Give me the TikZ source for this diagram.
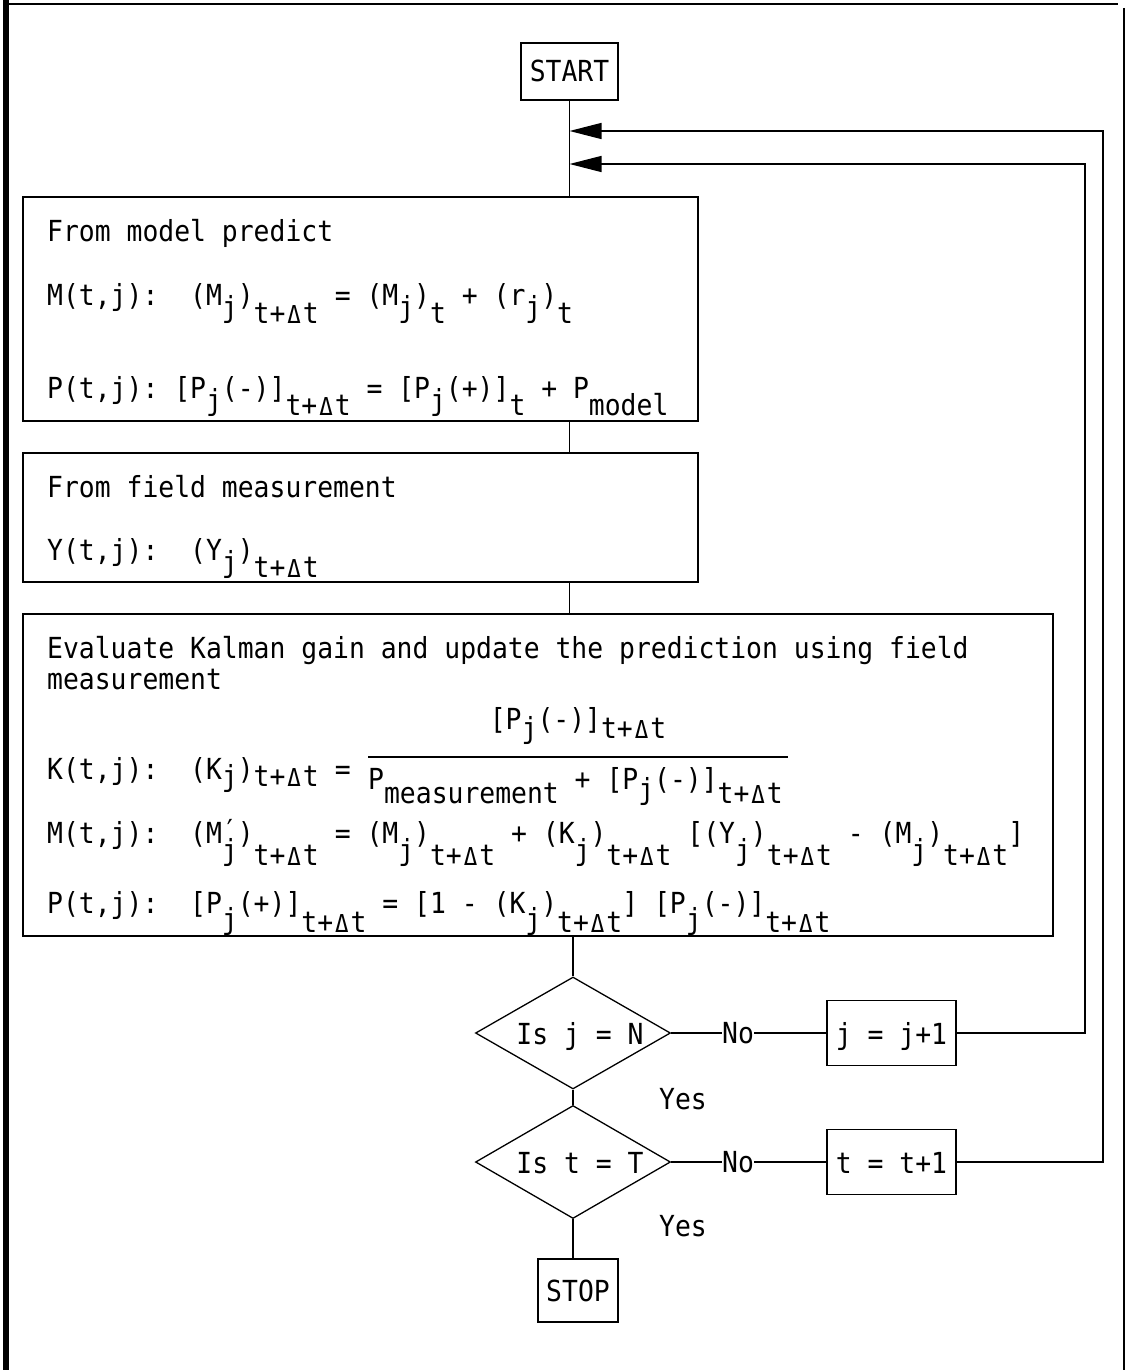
\documentclass[tikz,border=0pt]{standalone}
\usepackage{graphicx}
\usepackage{fontspec}
\setmainfont[FakeStretch=0.91]{DejaVu Sans Mono}
\usetikzlibrary{shapes.geometric,arrows.meta}
\frenchspacing
\newcommand\lo[2]{\raisebox{-#1pt}{#2}}
\newcommand\dlt{\makebox[0.602em]{\scalebox{0.85}{Δ}}}
\newcommand\SJ[1]{\raisebox{-#1pt}{j}}
\newcommand\ST[1]{\raisebox{-#1pt}{t+\dlt t}}
\tikzset{
  every node/.style={font=\fontsize{29pt}{33pt}\selectfont},
  box/.style={draw, rectangle, line width=1.8pt, inner sep=0pt},
  dia/.style={draw, diamond, line width=1.3pt, inner sep=0pt},
  conn/.style={line width=1.4pt},
  arr/.style={conn, -{Triangle[length=32pt,width=16pt]}},
  txt/.style={anchor=base west, inner sep=0pt},
  ctxt/.style={anchor=base, inner sep=0pt},
  lbl/.style={inner sep=0pt},
}
\begin{document}
\begin{tikzpicture}[x=1pt,y=-1pt]
\useasboundingbox (0,0) rectangle (1127,1370);
% frame
\draw[line width=6pt] (6,0) -- (6,1370);
\draw[line width=2.5pt] (3,4) -- (1118,4);
\draw[line width=2.5pt] (1124,8) -- (1124,1370);

% boxes
\node[box, minimum width=97pt, minimum height=57pt] (start) at (569.5,71.5) {};
\node[ctxt] (starttxt) at (569.5,82) {START};

\node[box, minimum width=675pt, minimum height=224pt] (model) at (360.5,309) {};
\node[box, minimum width=675pt, minimum height=129pt] (field) at (360.5,517.5) {};
\node[box, minimum width=1030pt, minimum height=322pt] (kalman) at (538,775) {};

\node[dia, minimum width=195pt, minimum height=112pt] (d1) at (573,1033) {};
\node[dia, minimum width=195pt, minimum height=113pt] (d2) at (573,1162) {};
\node[ctxt] (d1txt) at (580,1044) {Is j = N};
\node[ctxt] (d2txt) at (580,1173) {Is t = T};

\node[box, minimum width=129pt, minimum height=65pt] (jbox) at (891.5,1033) {};
\node[box, minimum width=129pt, minimum height=65pt] (tbox) at (891.5,1162) {};
\node[ctxt] (jtxt) at (891.5,1044) {j = j+1};
\node[ctxt] (ttxt) at (891.5,1173) {t = t+1};

\node[box, minimum width=80pt, minimum height=63pt] (stop) at (578,1290.5) {};
\node[ctxt] (stoptxt) at (578,1301) {STOP};

\node[lbl] (no1) at (738,1033) {No};
\node[lbl] (no2) at (738,1162) {No};
\node[lbl] (yes1) at (683,1099) {Yes};
\node[lbl] (yes2) at (683,1226) {Yes};

% texts in model box
\node[txt] (m0) at (47,241) {From model predict};
\node[txt] (m1) at (47,305) {M(t,j):~~(M\SJ{12})\ST{18} = (M\SJ{12})\lo{18}{t} + (r\SJ{12})\lo{18}{t}};
\node[txt] (m2) at (47,398) {P(t,j): [P\SJ{12}(-)]\ST{17} = [P\SJ{12}(+)]\lo{17}{t} + P\lo{17}{model}};

% texts in field box
\node[txt] (f0) at (47,497) {From field measurement};
\node[txt] (f1) at (47,560) {Y(t,j):~~(Y\SJ{12})\ST{17}};

% texts in kalman box
\node[txt] (k0) at (47,658) {Evaluate Kalman gain and update the prediction using field};
\node[txt] (k1) at (47,689) {measurement};
\node[ctxt] (num) at (578,729) {[P\SJ{9}(-)]\ST{9}};
\node[txt] (k2) at (47,779) {K(t,j):~~(K\SJ{7})\ST{7} =};
\node[txt] (den) at (368,789) {P\lo{14}{measurement} + [P\SJ{10}(-)]\ST{14}};
\coordinate (fracL) at (368,757);
\coordinate (fracR) at (788,757);
\draw[line width=1.4pt] (fracL) -- (fracR);
\node[txt] (k3) at (47,843) {M(t,j):~~(M\rlap{\raisebox{3pt}{′}}\SJ{17})\ST{22} = (M\SJ{17})\ST{22} + (K\SJ{17})\ST{22} [(Y\SJ{17})\ST{22} - (M\SJ{17})\ST{22}]};
\node[txt] (k4) at (47,913) {P(t,j):~~[P\SJ{16}(+)]\ST{19} = [1 - (K\SJ{16})\ST{19}] [P\SJ{16}(-)]\ST{19}};

% connectors
\draw[conn] (start.south) -- (start.south |- model.north);
\draw[conn] (start.south |- model.south) -- (start.south |- field.north);
\draw[conn] (start.south |- field.south) -- (start.south |- kalman.north);
\draw[conn] (d1.north |- kalman.south) -- (d1.north);
\draw[conn] (d1.south) -- (d2.north);
\draw[conn] (d2.south) -- (d2.south |- stop.north);
\draw[conn] (d1.east) -- (no1.west);
\draw[conn] (no1.east) -- (jbox.west);
\draw[conn] (d2.east) -- (no2.west);
\draw[conn] (no2.east) -- (tbox.west);

\coordinate (jr) at (1085,164);
\coordinate (tr) at (1103,131);
\draw[arr] (jbox.east) -| (jr) -- (jr -| start.south);
\draw[arr] (tbox.east) -| (tr) -- (tr -| start.south);
\end{tikzpicture}
\end{document}
